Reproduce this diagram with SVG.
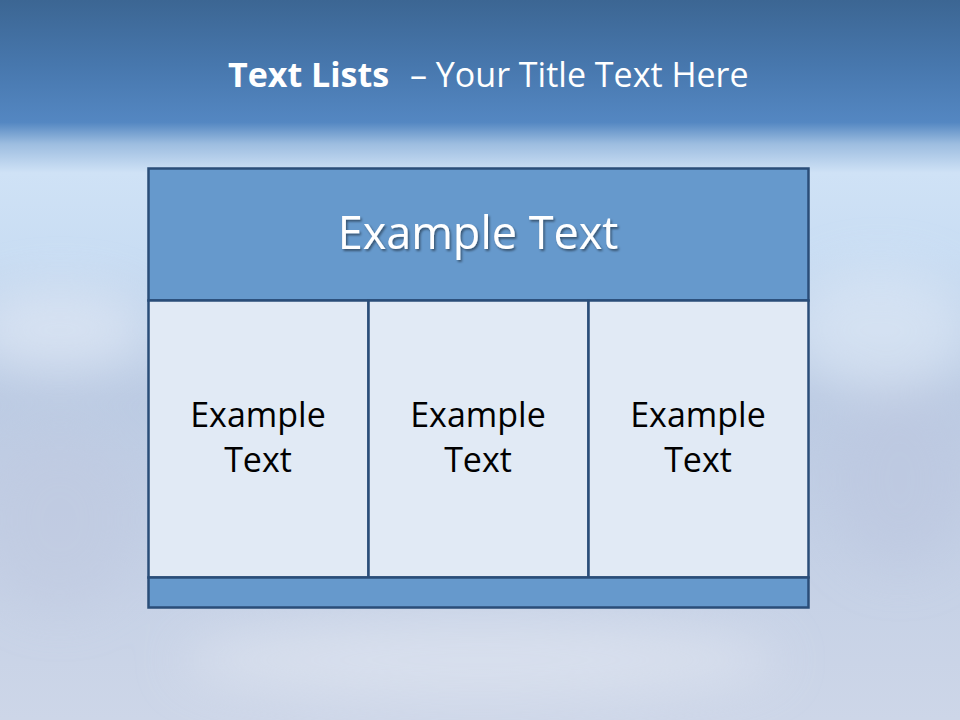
<svg xmlns="http://www.w3.org/2000/svg" width="960" height="720" viewBox="0 0 960 720">
<defs>
<linearGradient id="sky" x1="0" y1="0" x2="0" y2="1">
<stop offset="0" stop-color="#3c6693"/>
<stop offset="0.09" stop-color="#4777ad"/>
<stop offset="0.17" stop-color="#5487c2"/>
<stop offset="0.2" stop-color="#9dbde0"/>
<stop offset="0.24" stop-color="#cfe2f6"/>
<stop offset="0.35" stop-color="#c9ddf3"/>
<stop offset="0.55" stop-color="#bccbe3"/>
<stop offset="1" stop-color="#cdd6e8"/>
</linearGradient>
<filter id="blur" x="-50%" y="-50%" width="200%" height="200%"><feGaussianBlur stdDeviation="25"/></filter>
<filter id="shadow" x="-10%" y="-20%" width="120%" height="150%"><feDropShadow dx="1.5" dy="2" stdDeviation="1.2" flood-color="#000" flood-opacity="0.45"/></filter>
</defs>
<style>
.frame{stroke:#2a4d78;stroke-width:2.5}
.dark{fill:#6699cc}
.light{fill:#e1eaf5}
.cell{font-family:"Open Sans","Liberation Sans",sans-serif;font-size:34px;fill:#000;text-anchor:middle}
.head{font-family:"Open Sans","Liberation Sans",sans-serif;font-size:45px;fill:#fff;text-anchor:middle}
.title{font-family:"Open Sans","Liberation Sans",sans-serif;font-size:34px;fill:#fff}
</style>
<rect width="960" height="720" fill="url(#sky)"/>
<g filter="url(#blur)" opacity="0.55">
<ellipse cx="60" cy="330" rx="90" ry="40" fill="#e8eef8"/>
<ellipse cx="880" cy="330" rx="90" ry="60" fill="#e2ecf8"/>
<ellipse cx="480" cy="660" rx="300" ry="40" fill="#e4e9f3"/>
<ellipse cx="60" cy="520" rx="80" ry="90" fill="#c0c9e0"/>
<ellipse cx="900" cy="480" rx="70" ry="90" fill="#bcc6df"/>
</g>
<text class="title" x="228" y="87" font-weight="bold">Text Lists</text>
<text class="title" x="410" y="87">– Your Title Text Here</text>
<g id="header">
<rect class="frame dark" x="148.5" y="168.5" width="660" height="132"/>
<text class="head" x="478" y="249" filter="url(#shadow)">Example Text</text>
</g>
<g id="col1">
<rect class="frame light" x="148.5" y="300.5" width="220" height="277"/>
<text class="cell" x="258" y="427">Example</text>
<text class="cell" x="258" y="472">Text</text>
</g>
<g id="col2">
<rect class="frame light" x="368.5" y="300.5" width="220" height="277"/>
<text class="cell" x="478" y="427">Example</text>
<text class="cell" x="478" y="472">Text</text>
</g>
<g id="col3">
<rect class="frame light" x="588.5" y="300.5" width="220" height="277"/>
<text class="cell" x="698" y="427">Example</text>
<text class="cell" x="698" y="472">Text</text>
</g>
<g id="footer">
<rect class="frame dark" x="148.5" y="577.5" width="660" height="30"/>
</g>
<g id="connectors"/>
</svg>
